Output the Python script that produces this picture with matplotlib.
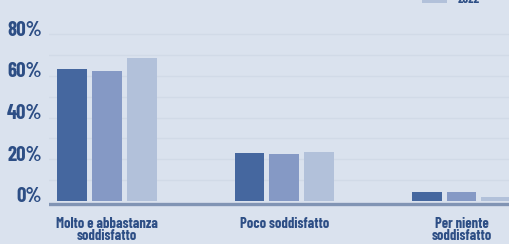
import matplotlib
matplotlib.use("Agg")
import matplotlib.pyplot as plt
import numpy as np
from matplotlib.transforms import ScaledTranslation
from matplotlib import font_manager as fm

categories = ["Molto e abbastanza\nsoddisfatto", "Poco soddisfatto", "Per niente\nsoddisfatto"]
series_names = ["2020", "2021", "2022"]
values_a = [63.2, 22.8, 4.4]
values_b = [62.5, 22.5, 4.4]
values_c = [68.8, 23.5, 2.0]
yticks = [0, 20, 40, 60, 80]
ytick_labels = ["0%", "20%", "40%", "60%", "80%"]

bg = "#dae2ee"
colors = ["#45679f", "#8599c5", "#b2c1da"]
text_color = "#2d4e85"

names = {f.name for f in fm.fontManager.ttflist}
prefs = ["Barlow Condensed", "Oswald", "Roboto Condensed", "Fjalla One", "Archivo Narrow"]
fam = [n for n in prefs if n in names][:1] + ["DejaVu Sans"]

def fp(size):
    return fm.FontProperties(family=fam, weight="bold", size=size)

fig = plt.figure(figsize=(5.09, 2.44), dpi=100, facecolor=bg)
ax = fig.add_axes([49/509, 37/244, 1 - 49/509, 183/244], facecolor=bg)

x = np.arange(len(categories))
w = 0.169
step = 0.196
for i, (vals, name) in enumerate(zip([values_a, values_b, values_c], series_names)):
    ax.bar(x + (i - 1) * step, vals, width=w, color=colors[i], label=name, zorder=3)

ax.set_xlim(-0.327, 2.268)
ax.set_ylim(-3, 85)
for g in range(10, 90, 10):
    ax.axhline(g, color="#d1dae7", lw=1.0, zorder=1)
ax.axhline(-1.7, color="#8194b4", lw=2.4, zorder=4)

for s in ax.spines.values():
    s.set_visible(False)
ax.set_yticks(yticks)
ax.set_yticklabels(ytick_labels)
ax.tick_params(axis="y", length=0, pad=5, labelcolor=text_color)
ax.tick_params(axis="x", length=0, pad=7, labelcolor=text_color)
ax.set_xticks(x)
ax.set_xticklabels(categories)
for lab in ax.get_yticklabels():
    lab.set_fontproperties(fp(15))
    lab.set_transform(lab.get_transform() + ScaledTranslation(0, 6/100, fig.dpi_scale_trans))
for lab in ax.get_xticklabels():
    lab.set_fontproperties(fp(10.5))
    lab.set_linespacing(0.8)

leg = fig.legend(loc="upper left", bbox_to_anchor=(411/509, 1.21), frameon=False,
                 handlelength=2.0, handleheight=0.9, labelspacing=0.4, handletextpad=0.8,
                 prop=fp(9))
for t in leg.get_texts():
    t.set_color(text_color)

fig.savefig("out.png", dpi=100, facecolor=bg)
